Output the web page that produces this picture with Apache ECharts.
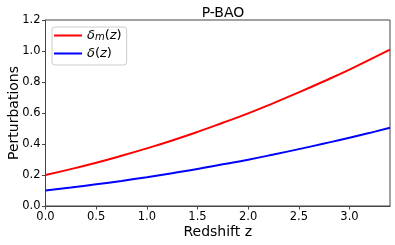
<!DOCTYPE html>
<html><head><meta charset="utf-8">
<script src="https://cdn.jsdelivr.net/npm/echarts@6/dist/echarts.min.js"></script>
<style>html,body{margin:0;padding:0;background:#fff}#c{width:395px;height:245px}</style>
</head><body><div id="c"></div>
<script>
const z = [0, 0.25, 0.5, 0.75, 1.0, 1.25, 1.5, 1.75, 2.0, 2.25, 2.5, 2.75, 3.0, 3.25, 3.4];
const deltaM = [0.200, 0.238, 0.279, 0.324, 0.372, 0.423, 0.478, 0.537, 0.598, 0.664, 0.733, 0.805, 0.880, 0.960, 1.009];
const delta = [0.100, 0.119, 0.140, 0.162, 0.186, 0.212, 0.239, 0.269, 0.299, 0.332, 0.367, 0.403, 0.440, 0.480, 0.505];
const xTicks = [0, 0.5, 1.0, 1.5, 2.0, 2.5, 3.0];
const yTicks = [0, 0.2, 0.4, 0.6, 0.8, 1.0, 1.2];

const F = 'DejaVu Sans';
const chart = echarts.init(document.getElementById('c'), null, {renderer: 'canvas'});
chart.setOption({
  animation: false,
  backgroundColor: '#fff',
  title: {text: 'P-BAO', left: 218, textAlign: 'center', top: 1,
    textStyle: {fontFamily: F, fontSize: 14, fontWeight: 'normal', color: '#000'}},
  grid: {left: 45.5, right: 5, top: 20, bottom: 39, show: true, borderColor: '#444', borderWidth: 1,
    containLabel: false, outerBoundsMode: 'none'},
  legend: {
    left: 52, top: 27, orient: 'vertical', padding: [2, 5, 5, 2], itemGap: 4.5,
    itemWidth: 28, itemHeight: 14, backgroundColor: '#fff', borderColor: '#ccc', borderWidth: 1, borderRadius: 3,
    icon: 'path://M0,0 L28,0 L28,2 L0,2 Z',
    data: [{name: 'dm', itemStyle: {color: '#ff0000'}}, {name: 'd', itemStyle: {color: '#0000ff'}}],
    formatter: function(n){ return n === 'dm' ? '{i|δ}{s|m}{n|(}{i|z}{n|)}' : '{i|δ}{n|(}{i|z}{n|)}'; },
    textStyle: {fontFamily: F, fontSize: 13, color: '#000', padding: [0,0,0,0],
      rich: {i: {fontFamily: F, fontSize: 13, fontStyle: 'italic', color: '#000'},
             n: {fontFamily: F, fontSize: 13, color: '#000'},
             s: {fontFamily: F, fontSize: 10, fontStyle: 'italic', color: '#000', padding: [4,0,0,0]}}}
  },
  xAxis: {type: 'value', min: 0, max: 3.4,
    name: 'Redshift z', nameLocation: 'middle', nameGap: 19, nameMoveOverlap: false,
    nameTextStyle: {fontFamily: F, fontSize: 14, color: '#000'},
    axisLine: {show: true, lineStyle: {color: '#444', width: 1}},
    axisTick: {show: true, length: 3.5, customValues: xTicks, lineStyle: {color: '#444'}},
    axisLabel: {customValues: xTicks, fontFamily: F, fontSize: 11.5, color: '#000', margin: 5,
      formatter: v => v.toFixed(1)},
    splitLine: {show: false}},
  yAxis: {type: 'value', min: 0, max: 1.2, interval: 0.2,
    name: 'Perturbations', nameLocation: 'middle', nameGap: 24, nameMoveOverlap: false,
    nameTextStyle: {fontFamily: F, fontSize: 14, color: '#000'},
    axisLine: {show: true, lineStyle: {color: '#444', width: 1}},
    axisTick: {show: true, length: 3.5, customValues: yTicks, lineStyle: {color: '#444'}},
    axisLabel: {customValues: yTicks, fontFamily: F, fontSize: 11.5, color: '#000', margin: 5,
      formatter: v => v.toFixed(1)},
    splitLine: {show: false}},
  series: [
    {name: 'dm', type: 'line', data: z.map((x, i) => [x, deltaM[i]]), smooth: true, symbol: 'none',
      lineStyle: {color: '#ff0000', width: 2}, itemStyle: {color: '#ff0000'}},
    {name: 'd', type: 'line', data: z.map((x, i) => [x, delta[i]]), smooth: true, symbol: 'none',
      lineStyle: {color: '#0000ff', width: 2}, itemStyle: {color: '#0000ff'}}
  ]
});
</script></body></html>
